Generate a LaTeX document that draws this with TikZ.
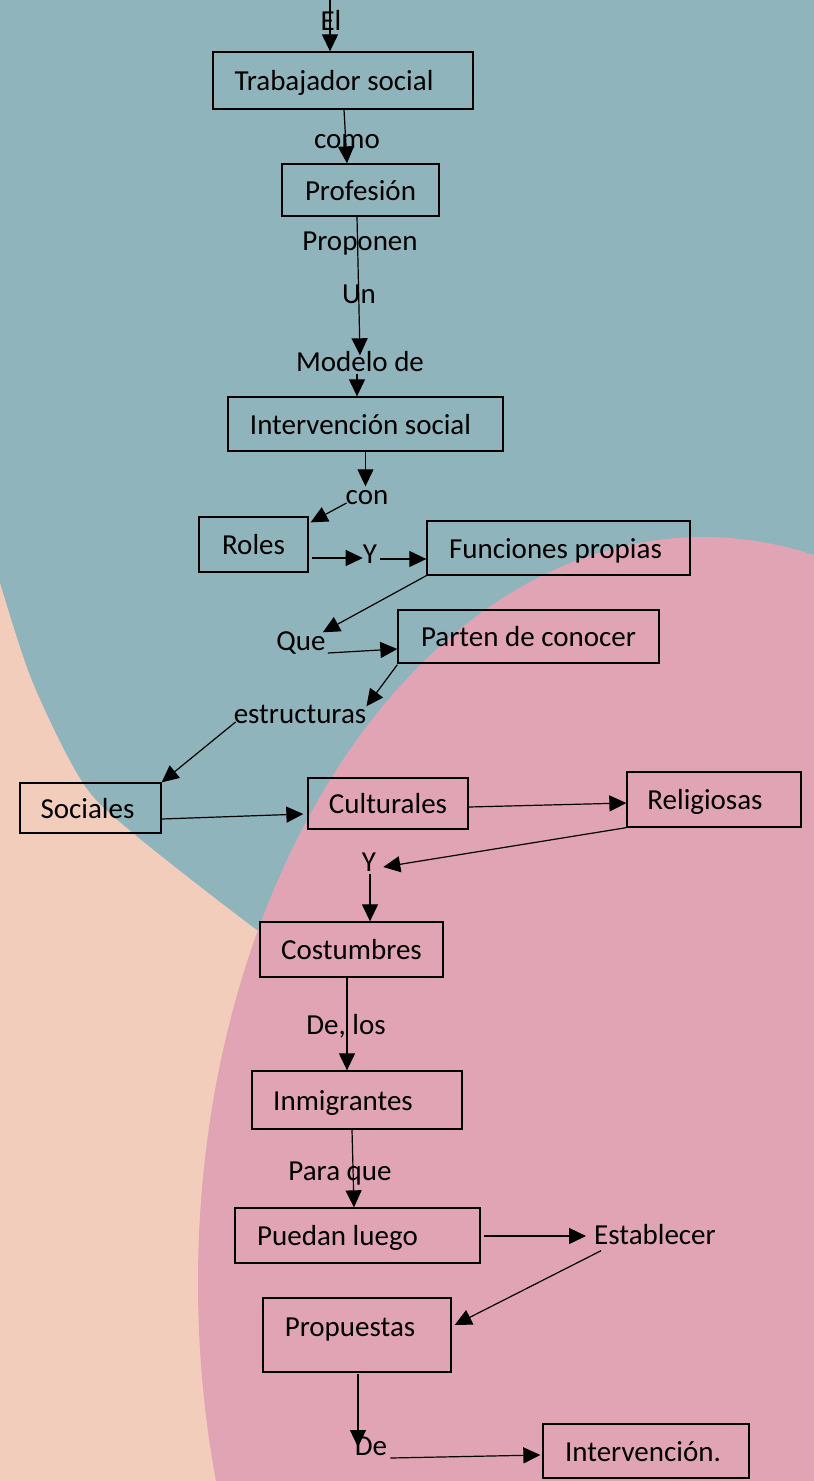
\documentclass[tikz,border=0pt]{standalone}
\usepackage{fontspec}
\setmainfont{Carlito}
\usetikzlibrary{arrows.meta,calc}
\definecolor{bgpeach}{RGB}{243,205,188}
\definecolor{bgteal}{RGB}{143,180,188}
\definecolor{bgpink}{RGB}{225,164,180}
\begin{document}
\begin{tikzpicture}[x=1pt,y=-1pt,
  txt/.style={font=\fontsize{29}{34}\selectfont, inner sep=0pt, text height=21pt, text depth=6pt},
  bx/.style 2 args={txt, draw=black, line width=1.3pt, text height=26pt, minimum width=#1pt, minimum height=#2pt},
  arr/.style={-{Triangle[length=17pt,width=16pt]}, line width=1.2pt, draw=black}]
\useasboundingbox (0,0) rectangle (814,1481);
\fill[bgpeach] (0,0) rectangle (814,1481);
\fill[bgteal] (-10,-10) -- (824,-10) -- (824,985) -- plot[smooth] coordinates {(330,980) (253,927) (133,833) (83,783) (33,683) (0,583) (-10,548)} -- cycle;
\fill[bgpink] (703,1283) ellipse [x radius=505pt, y radius=746pt];

\node[txt] (el) at (331,23) {El};
\node[bx={260}{57}] (trab) at (343,80.5) {\kern-18pt Trabajador social};
\node[txt] (como) at (347,141) {como};
\node[bx={157}{52}] (prof) at (360.5,190) {Profesión};
\node[txt] (propon) at (360,243) {Proponen};
\node[txt] (un) at (359,296) {Un};
\node[txt] (modelo) at (360,364) {Modelo de};
\node[bx={275}{54}] (interv) at (365.5,424) {\kern-10pt Intervención social};
\node[txt] (con) at (367,497) {con};
\node[bx={109}{55}] (roles) at (253.5,544.5) {Roles};
\node[txt] (y1) at (370,556) {Y};
\node[bx={263}{54}] (func) at (558.5,548) {\kern-6pt Funciones propias};
\node[txt] (que) at (301,643) {Que};
\node[bx={261}{53}] (parten) at (528.5,636.5) {Parten de conocer};
\node[txt] (estr) at (300,716) {estructuras};
\node[bx={141}{50}] (soc) at (90.5,808) {\kern-6pt Sociales};
\node[bx={160}{51}] (cult) at (388,803.5) {Culturales};
\node[bx={174}{55}] (relig) at (714,799.5) {\kern-18pt Religiosas};
\node[txt] (y2) at (369,864) {Y};
\node[bx={183}{55}] (cost) at (351.5,949.5) {Costumbres};
\node[txt] (delos) at (346,1027) {De, los};
\node[bx={210}{58}] (inmig) at (357,1100) {\kern-28pt Inmigrantes};
\node[txt] (paraque) at (340,1173) {Para que};
\node[bx={245}{55}] (puedan) at (357.5,1235.5) {\kern-40pt Puedan luego};
\node[txt] (establ) at (655,1237) {Establecer};
\node[bx={188}{74}] (propu) at (357,1335) {\kern-14pt\raisebox{9pt}{Propuestas}};
\node[txt] (de) at (371,1448) {De};
\node[bx={206}{54}] (interv2) at (646,1451) {\kern-6pt Intervención.};

\coordinate (s0) at (330,-2);
\draw[arr] (s0) -- (s0 |- trab.north);
\draw[arr] ($(trab.south)+(1,0)$) -- ($(prof.north)+(-13.5,0)$);
\draw[arr] ($(prof.south)+(-3.5,0)$) -- ($(modelo.north)+(0,5)$);
\draw[arr] ($(modelo.south)+(-3,-4)$) coordinate (m1) -- (m1 |- interv.north);
\draw[arr] (interv.south) -- ($(interv.south |- con.north)+(0,3)$);
\draw[arr] ($(con.west)+(1,6)$) -- ($(roles.north east)+(2,6)$);
\draw[arr] ($(roles.east)+(3,13.5)$) coordinate (r1) -- (r1 -| y1.west);
\draw[arr] ($(y1.east)+(3,3)$) coordinate (r2) -- (r2 -| func.west);
\draw[arr] (func.south west) -- ($(que.north east)+(-3,3)$);
\draw[arr] ($(que.east)+(2,10)$) -- ($(parten.west)+(0,12.5)$);
\draw[arr] ($(parten.south west)+(0,1)$) -- ($(estr.north east)+(0,4)$);
\draw[arr] ($(estr.west)+(2,6)$) -- (soc.north east);
\draw[arr] ($(soc.east)+(0,11)$) -- ($(cult.west)+(-4,10.5)$);
\draw[arr] ($(cult.east)+(0,3.5)$) -- ($(relig.west)+(0,3.5)$);
\draw[arr] (relig.south west) -- ($(y2.east)+(7,3)$);
\draw[arr] ($(y2.south)+(1,-4)$) coordinate (y2a) -- (y2a |- cost.north);
\draw[arr] ($(cost.south)+(-4.5,0)$) coordinate (c1) -- (c1 |- inmig.north);
\draw[arr] ($(inmig.south)+(-5,0)$) coordinate (c2) -- ($(c2 |- puedan.north)+(2,0)$);
\draw[arr] ($(puedan.east)+(3,0.5)$) coordinate (p1) -- ($(p1 -| establ.west)+(-8,0)$);
\draw[arr] ($(establ.south west)+(7,0)$) -- ($(propu.east)+(3,-10)$);
\draw[arr] ($(propu.south)+(1,1)$) coordinate (pr1) -- ($(pr1 |- de.center)+(0,-1)$);
\draw[arr] ($(de.east)+(3,10)$) -- ($(interv2.west)+(-2,4)$);
\end{tikzpicture}
\end{document}
